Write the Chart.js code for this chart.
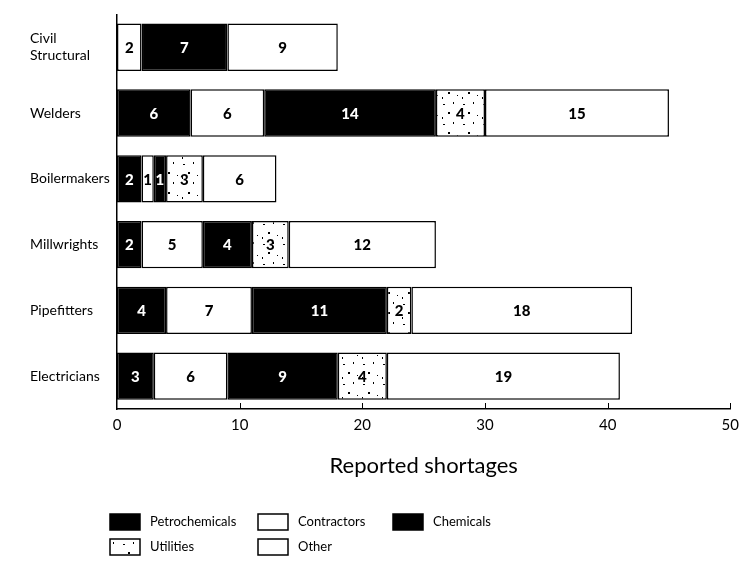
<!DOCTYPE html>
<html>
<head>
<meta charset="utf-8">
<script src="https://cdn.jsdelivr.net/npm/chart.js@4"></script>
<style>
  html, body { margin: 0; padding: 0; background: #fff; }
  #wrap { width: 746px; height: 563px; position: relative; }
</style>
</head>
<body>
<div id="wrap"><canvas id="myChart" width="746" height="563"></canvas></div>
<script>
// data
const categories = [["Civil", "Structural"], "Welders", "Boilermakers", "Millwrights", "Pipefitters", "Electricians"];
const petrochemicals = [0, 6, 2, 2, 4, 3];
const contractors = [2, 6, 1, 5, 7, 6];
const chemicals = [7, 14, 1, 4, 11, 9];
const utilities = [0, 4, 3, 3, 2, 4];
const other = [9, 15, 6, 12, 18, 19];
const xTicks = [0, 10, 20, 30, 40, 50];

const FONT = "Lato, 'DejaVu Sans', sans-serif";
const ctx = document.getElementById("myChart");

// sparse speckled fill for utilities
function stipple() {
  const c = document.createElement("canvas");
  c.width = 20;
  c.height = 20;
  const g = c.getContext("2d");
  g.fillStyle = "#fff";
  g.fillRect(0, 0, 20, 20);
  g.fillStyle = "#000";
  [[3, 4, 2, 1], [13, 2, 1, 2], [8, 12, 2, 2], [17, 15, 1, 1], [2, 17, 1, 2]].forEach((p) => g.fillRect(p[0], p[1], p[2], p[3]));
  return g.createPattern(c, "repeat");
}
const dots = stipple();

function makeSet(label, data, fill, textColor) {
  return {
    label: label,
    data: data,
    backgroundColor: fill,
    borderColor: "#000",
    borderWidth: 1.5,
    borderSkipped: false,
    textColor: textColor,
  };
}

const segLabels = {
  id: "segLabels",
  afterDatasetsDraw(chart) {
    const c = chart.ctx;
    c.save();
    c.font = "900 15px " + FONT;
    c.textAlign = "center";
    c.textBaseline = "middle";
    chart.data.datasets.forEach((ds, i) => {
      chart.getDatasetMeta(i).data.forEach((bar, j) => {
        if (!ds.data[j]) return;
        const p = bar.getProps(["x", "y", "base"], true);
        c.fillStyle = ds.textColor;
        c.fillText(ds.data[j], (p.x + p.base) / 2, p.y + 1);
      });
    });
    c.restore();
  },
};

const axisTicks = {
  id: "axisTicks",
  afterDraw(chart) {
    const c = chart.ctx;
    const xs = chart.scales.x;
    const bottom = chart.chartArea.bottom;
    c.save();
    c.strokeStyle = "#000";
    c.lineWidth = 1;
    xTicks.slice(1).forEach((v) => {
      const x = Math.round(xs.getPixelForValue(v)) + 0.5;
      c.beginPath();
      c.moveTo(x, bottom);
      c.lineTo(x, bottom - 6);
      c.stroke();
    });
    c.restore();
  },
};

const boxLegend = {
  id: "boxLegend",
  afterDraw(chart) {
    const c = chart.ctx;
    const spots = [[110, 522], [258, 522], [393, 522], [110, 547], [258, 547]];
    c.save();
    c.font = "13px " + FONT;
    c.textBaseline = "middle";
    c.textAlign = "left";
    chart.data.datasets.forEach((ds, i) => {
      const [x, y] = spots[i];
      c.fillStyle = ds.backgroundColor;
      c.fillRect(x, y - 8, 30, 16);
      c.strokeStyle = "#000";
      c.lineWidth = 1.5;
      c.strokeRect(x, y - 8, 30, 16);
      c.fillStyle = "#000";
      c.fillText(ds.label, x + 40, y);
    });
    c.restore();
  },
};

new Chart(ctx, {
  type: "bar",
  data: {
    labels: categories,
    datasets: [
      makeSet("Petrochemicals", petrochemicals, "#000", "#fff"),
      makeSet("Contractors", contractors, "#fff", "#000"),
      makeSet("Chemicals", chemicals, "#000", "#fff"),
      makeSet("Utilities", utilities, dots, "#000"),
      makeSet("Other", other, "#fff", "#000"),
    ],
  },
  options: {
    indexAxis: "y",
    responsive: false,
    animation: false,
    devicePixelRatio: 1,
    layout: { padding: { left: 30, top: 12, right: 10, bottom: 83 } },
    categoryPercentage: 1,
    barPercentage: 0.72,
    plugins: { legend: { display: false }, tooltip: { enabled: false } },
    scales: {
      x: {
        stacked: true,
        min: 0,
        max: 50,
        afterFit: (s) => { s.height = 71; },
        afterBuildTicks: (s) => { s.ticks = xTicks.map((v) => ({ value: v })); },
        grid: { display: false, drawTicks: false },
        border: { display: true, color: "#000", width: 1.5 },
        ticks: { color: "#000", font: { family: FONT, size: 15 }, padding: 7 },
        title: {
          display: true,
          text: "Reported shortages",
          color: "#000",
          font: { family: FONT, size: 22 },
          padding: { top: 0, bottom: 1 },
        },
      },
      y: {
        stacked: true,
        afterFit: (s) => { s.width = 87; },
        grid: { display: false, drawTicks: false },
        border: { display: true, color: "#000", width: 1.5 },
        ticks: { color: "#000", crossAlign: "far", font: { family: FONT, size: 14 }, padding: 6 },
      },
    },
  },
  plugins: [segLabels, axisTicks, boxLegend],
});
</script>
</body>
</html>
